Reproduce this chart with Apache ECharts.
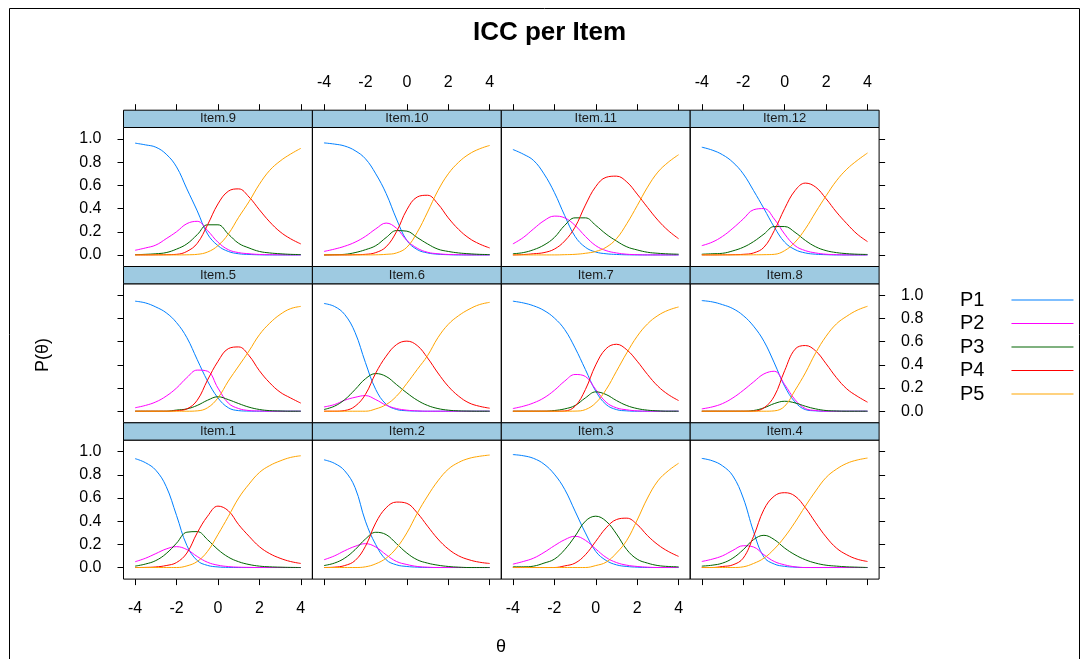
<!DOCTYPE html>
<html>
<head>
<meta charset="utf-8">
<title>ICC per Item</title>
<script src="https://cdn.jsdelivr.net/npm/echarts@6/dist/echarts.min.js"></script>
<style>
  html, body { margin: 0; padding: 0; background: #fff; }
  #chart { width: 1084px; height: 659px; }
</style>
</head>
<body>
<div id="chart"></div>
<script>
// theta grid the curves were read at
const theta = [-4, -3.5, -3, -2.5, -2, -1.5, -1, -0.5, 0, 0.5, 1, 1.5, 2, 2.5, 3, 3.5, 4];
const categories = ['P1', 'P2', 'P3', 'P4', 'P5'];
const xTicks = [-4, -2, 0, 2, 4];
const yTicks = [0, 0.2, 0.4, 0.6, 0.8, 1.0];

// each item: rows P1..P5, values at theta
const item1 = [
  [.94, .905, .84, .7, .45, .19, .06, .018, .005, .001, 0, 0, 0, 0, 0, 0, 0],
  [.05, .08, .12, .16, .18, .155, .095, .045, .02, .008, .003, .001, 0, 0, 0, 0, 0],
  [.012, .03, .06, .12, .21, .305, .31, .24, .155, .09, .05, .026, .012, .006, .003, .001, 0],
  [0, .001, .005, .017, .043, .125, .3, .443, .53, .49, .37, .27, .18, .12, .08, .052, .035],
  [0, 0, 0, 0, 0, .014, .052, .14, .285, .44, .6, .72, .82, .88, .92, .95, .965]
];
const item2 = [
  [.93, .9, .835, .69, .4, .197, .067, .023, .009, .003, 0, 0, 0, 0, 0, 0, 0],
  [.067, .1, .145, .183, .206, .177, .11, .052, .026, .009, .003, 0, 0, 0, 0, 0, 0],
  [.017, .038, .081, .154, .246, .304, .284, .206, .125, .067, .038, .02, .009, .003, 0, 0, 0],
  [0, .003, .017, .06, .183, .386, .516, .565, .554, .472, .357, .246, .16, .101, .067, .046, .035],
  [0, 0, 0, 0, .006, .032, .081, .168, .299, .467, .617, .748, .849, .907, .942, .96, .971]
];
const item3 = [
  [.975, .965, .942, .893, .806, .675, .487, .299, .139, .061, .023, .009, .003, 0, 0, 0, 0],
  [.029, .052, .081, .13, .188, .24, .27, .235, .16, .087, .043, .02, .009, .003, 0, 0, 0],
  [.006, .006, .012, .038, .072, .154, .27, .4, .443, .4, .29, .154, .072, .038, .017, .009, .006],
  [0, 0, 0, 0, 0, .014, .038, .11, .226, .342, .414, .426, .371, .275, .197, .139, .096],
  [0, 0, 0, 0, 0, 0, 0, 0, .017, .046, .125, .235, .41, .6, .748, .835, .9]
];
const item4 = [
  [.942, .922, .878, .791, .6, .31, .09, .03, .01, .003, 0, 0, 0, 0, 0, 0, 0],
  [.052, .072, .101, .148, .188, .177, .11, .052, .023, .006, 0, 0, 0, 0, 0, 0, 0],
  [.012, .02, .038, .081, .154, .241, .278, .241, .168, .11, .067, .038, .02, .012, .006, .003, 0],
  [0, 0, .009, .023, .081, .27, .501, .617, .646, .617, .516, .386, .264, .168, .11, .072, .052],
  [0, 0, 0, 0, .006, .035, .081, .16, .264, .391, .53, .661, .777, .849, .899, .928, .945]
];
const item5 = [
  [.95, .935, .9, .85, .765, .635, .445, .26, .115, .03, .005, .001, 0, 0, 0, 0, 0],
  [.03, .05, .08, .13, .2, .29, .355, .345, .2, .07, .023, .006, .002, 0, 0, 0, 0],
  [0, 0, 0, 0, .01, .02, .05, .095, .125, .1, .066, .035, .015, .005, .002, 0, 0],
  [0, 0, 0, 0, .005, .02, .095, .27, .43, .54, .555, .48, .35, .245, .165, .115, .07],
  [0, 0, 0, 0, 0, 0, .003, .03, .115, .26, .39, .52, .66, .76, .835, .885, .905]
];
const item6 = [
  [.93, .905, .835, .68, .42, .187, .06, .015, .004, .001, 0, 0, 0, 0, 0, 0, 0],
  [.037, .057, .095, .12, .135, .1, .052, .023, .009, .003, 0, 0, 0, 0, 0, 0, 0],
  [.015, .043, .1, .187, .28, .325, .3, .23, .158, .095, .05, .023, .009, .003, .001, 0, 0],
  [0, 0, .006, .043, .145, .33, .475, .575, .605, .567, .46, .33, .215, .13, .072, .043, .026],
  [0, 0, 0, 0, 0, .02, .057, .13, .24, .36, .48, .635, .75, .825, .88, .92, .94]
];
const item7 = [
  [.95, .935, .91, .87, .805, .705, .547, .36, .173, .058, .014, .003, 0, 0, 0, 0, 0],
  [.023, .043, .072, .115, .18, .26, .317, .3, .187, .078, .029, .012, .003, 0, 0, 0, 0],
  [0, 0, 0, 0, .006, .02, .049, .115, .167, .144, .092, .049, .023, .009, .003, 0, 0],
  [0, 0, 0, 0, 0, .002, .043, .187, .4, .54, .578, .53, .432, .317, .216, .144, .092],
  [0, 0, 0, 0, 0, 0, .001, .014, .072, .187, .345, .504, .647, .754, .826, .872, .9]
];
const item8 = [
  [.955, .944, .92, .886, .826, .734, .604, .417, .216, .08, .014, .003, 0, 0, 0, 0, 0],
  [.02, .037, .066, .115, .18, .253, .322, .345, .23, .1, .023, .006, 0, 0, 0, 0, 0],
  [0, 0, 0, 0, 0, .006, .029, .066, .086, .072, .043, .02, .006, .002, 0, 0, 0],
  [0, 0, 0, 0, 0, .001, .029, .13, .35, .535, .567, .52, .41, .29, .193, .13, .078],
  [0, 0, 0, 0, 0, 0, 0, .003, .043, .18, .331, .504, .647, .754, .82, .872, .906]
];
const item9 = [
  [.965, .95, .93, .87, .76, .57, .38, .18, .08, .03, .01, .004, .001, 0, 0, 0, 0],
  [.04, .06, .085, .14, .2, .27, .29, .21, .11, .045, .02, .01, .004, .002, .001, 0, 0],
  [.002, .005, .01, .02, .05, .095, .175, .26, .26, .18, .1, .06, .03, .017, .01, .005, .003],
  [0, 0, .001, .002, .005, .03, .1, .26, .44, .55, .57, .5, .39, .285, .2, .14, .095],
  [0, 0, 0, 0, 0, .001, .005, .025, .08, .18, .325, .46, .61, .73, .81, .87, .92]
];
const item10 = [
  [.967, .957, .94, .9, .83, .7, .53, .31, .125, .046, .017, .006, .002, 0, 0, 0, 0],
  [.03, .05, .075, .11, .16, .225, .275, .23, .125, .058, .023, .01, .004, .002, 0, 0, 0],
  [0, .002, .005, .02, .045, .08, .15, .21, .205, .15, .095, .05, .03, .017, .01, .005, .003],
  [0, 0, 0, .002, .005, .02, .07, .2, .39, .5, .515, .44, .32, .22, .145, .095, .06],
  [0, 0, 0, 0, 0, .001, .005, .017, .066, .195, .37, .555, .7, .8, .87, .915, .945]
];
const item11 = [
  [.91, .87, .815, .7, .54, .34, .16, .066, .025, .01, .004, .001, 0, 0, 0, 0, 0],
  [.095, .15, .225, .295, .335, .32, .255, .16, .08, .037, .017, .006, .002, 0, 0, 0, 0],
  [.01, .02, .045, .085, .15, .255, .32, .32, .255, .18, .12, .07, .043, .023, .014, .009, .006],
  [0, .003, .01, .02, .05, .12, .24, .43, .59, .67, .68, .63, .525, .41, .3, .21, .14],
  [0, 0, 0, 0, 0, .002, .005, .014, .03, .066, .14, .27, .425, .585, .715, .8, .865]
];
const item12 = [
  [.93, .905, .865, .8, .7, .555, .4, .24, .11, .046, .017, .006, .002, 0, 0, 0, 0],
  [.08, .11, .16, .23, .31, .39, .4, .31, .18, .08, .037, .017, .006, .002, 0, 0, 0],
  [.006, .01, .014, .035, .066, .115, .18, .245, .245, .195, .125, .07, .037, .02, .011, .006, .004],
  [0, 0, .001, .002, .005, .017, .066, .21, .4, .555, .62, .585, .485, .37, .27, .18, .115],
  [0, 0, 0, 0, 0, .001, .002, .005, .037, .11, .225, .37, .51, .64, .74, .815, .88]
];

const items = [item1, item2, item3, item4, item5, item6, item7, item8, item9, item10, item11, item12];

const colors = ['#0080ff', '#ff00ff', '#006400', '#ff0000', '#ffa500'];
const font = 'Liberation Sans';

// lattice panel layout (3 rows x 4 cols), row 0 is the top row
const panelLeft = 123.5, panelW = 188.9;
const plotTop = 127.5, plotH = 139, rowStep = 156.3, stripH = 17.3;

const grids = [], xAxes = [], yAxes = [], graphics = [];

for (let r = 0; r < 3; r++) {
  for (let c = 0; c < 4; c++) {
    const left = panelLeft + c * panelW;
    const top = plotTop + r * rowStep;
    grids.push({ left, top, width: panelW, height: plotH, show: true, borderColor: '#000', borderWidth: 1, backgroundColor: 'transparent' });

    xAxes.push({
      gridIndex: grids.length - 1,
      type: 'value', min: -4.56, max: 4.56,
      show: r !== 1,
      position: r === 0 ? 'top' : 'bottom',
      offset: r === 0 ? stripH : 0,
      axisLine: { show: false, onZero: false },
      axisTick: { show: true, inside: false, length: 6, customValues: xTicks, lineStyle: { color: '#000', width: 1 } },
      axisLabel: {
        show: (r === 0 && (c === 1 || c === 3)) || (r === 2 && (c === 0 || c === 2)),
        customValues: xTicks, margin: r === 0 ? 20 : 21,
        color: '#000', fontSize: 16, fontFamily: font,
        formatter: v => String(v)
      },
      splitLine: { show: false }
    });

    yAxes.push({
      gridIndex: grids.length - 1,
      type: 'value', min: -0.1, max: 1.1,
      show: c === 0 || c === 3,
      position: c === 3 ? 'right' : 'left',
      axisLine: { show: false, onZero: false },
      axisTick: { show: true, inside: false, length: 6, customValues: yTicks, lineStyle: { color: '#000', width: 1 } },
      axisLabel: {
        show: (c === 0 && r !== 1) || (c === 3 && r === 1),
        customValues: yTicks, margin: 22,
        color: '#000', fontSize: 16, fontFamily: font,
        formatter: v => v.toFixed(1)
      },
      splitLine: { show: false }
    });

    // strip with the item name
    const num = (2 - r) * 4 + c + 1;
    graphics.push({
      type: 'rect', silent: true,
      shape: { x: left, y: top - stripH, width: panelW, height: stripH },
      style: { fill: '#9ECAE1', stroke: '#000', lineWidth: 1 }
    });
    graphics.push({
      type: 'text', silent: true,
      x: left + panelW / 2, y: top - stripH / 2,
      style: { text: 'Item.' + num, align: 'center', verticalAlign: 'middle', fontSize: 13, fontFamily: font, fill: '#1a1a1a' }
    });
  }
}

const series = [];
items.forEach((item, i) => {
  const r = 2 - Math.floor(i / 4);
  const c = i % 4;
  const g = r * 4 + c;
  item.forEach((vals, k) => {
    series.push({
      name: categories[k], type: 'line',
      xAxisIndex: g, yAxisIndex: g,
      data: theta.map((t, j) => [t, vals[j]]),
      symbol: 'none', smooth: 0.4,
      lineStyle: { width: 1, color: colors[k] },
      itemStyle: { color: colors[k] },
      silent: true
    });
  });
});

// title, axis names and page frame
graphics.push(
  { type: 'text', silent: true, x: 549.5, y: 33,
    style: { text: 'ICC per Item', align: 'center', verticalAlign: 'middle', fontSize: 26, fontWeight: 'bold', fontFamily: font, fill: '#000' } },
  { type: 'text', silent: true, x: 43, y: 355, rotation: Math.PI / 2,
    style: { text: 'P(θ)', align: 'center', verticalAlign: 'middle', fontSize: 18, fontFamily: font, fill: '#000' } },
  { type: 'text', silent: true, x: 501, y: 647,
    style: { text: 'θ', align: 'center', verticalAlign: 'middle', fontSize: 18, fontFamily: font, fill: '#000' } },
  { type: 'rect', silent: true, shape: { x: 9.5, y: 8.5, width: 1070, height: 660 },
    style: { fill: 'none', stroke: '#000', lineWidth: 1 } }
);

const chart = echarts.init(document.getElementById('chart'));
chart.setOption({
  animation: false,
  backgroundColor: '#fff',
  grid: grids,
  xAxis: xAxes,
  yAxis: yAxes,
  legend: {
    data: categories, orient: 'vertical', left: 955, top: 285,
    align: 'right', icon: 'rect', itemWidth: 62, itemHeight: 1, itemGap: 3.5,
    selectedMode: false,
    textStyle: { fontSize: 20, fontFamily: font, color: '#000', lineHeight: 20, padding: [0, 22, 0, 0] }
  },
  graphic: graphics,
  series
});
window.addEventListener('resize', () => chart.resize());
</script>
</body>
</html>
